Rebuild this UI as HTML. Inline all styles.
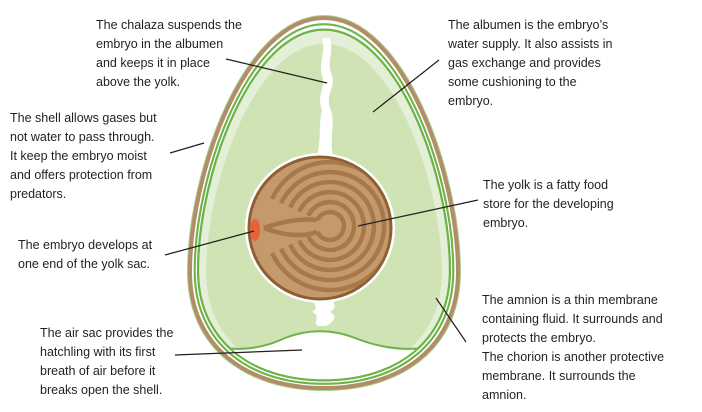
<!DOCTYPE html>
<html><head><meta charset="utf-8"><style>
html,body{margin:0;padding:0;background:#fff;}
svg{display:block;}
text{font-family:"Liberation Sans",sans-serif;font-size:12.5px;fill:#231f20;}
</style></head><body>
<svg width="702" height="412" viewBox="0 0 702 412" xmlns="http://www.w3.org/2000/svg">
<defs>
<path id="egg" d="M324,18 C402,18 458,172 458,272 C458,346 402,388 324,388 C246,388 190,346 190,272 C190,172 246,18 324,18 Z"/>
<clipPath id="yc"><circle cx="320" cy="228" r="70"/></clipPath>
<clipPath id="ic"><use href="#egg" transform="translate(324,240) scale(0.94,0.948) translate(-324,-240)"/></clipPath>
</defs>
<!-- shell -->
<use href="#egg" fill="#fff" stroke="#a8cf8e" stroke-width="6"/>
<use href="#egg" fill="#fff" stroke="#b38d68" stroke-width="4"/>
<!-- membranes -->
<g transform="translate(324,240) scale(0.965,0.972) translate(-324,-240)">
<use href="#egg" fill="none" stroke="#6db347" stroke-width="2.2"/>
</g>
<g transform="translate(324,240) scale(0.94,0.948) translate(-324,-240)">
<use href="#egg" fill="#e4efd8" stroke="#6db347" stroke-width="2.2"/>
</g>
<g transform="translate(324,240) scale(0.88,0.9) translate(-324,-236)">
<use href="#egg" fill="#cfe3b5"/>
</g>
<!-- air sac -->
<g clip-path="url(#ic)">
<path d="M190,340 C230,354 260,350 285,338 C305,330 330,328 355,338 C385,350 420,354 458,340 L458,400 L190,400 Z" fill="#fff"/>
<path d="M190,340 C230,354 260,350 285,338 C305,330 330,328 355,338 C385,350 420,354 458,340" fill="none" stroke="#6db347" stroke-width="2"/>
</g>
<g transform="translate(324,240) scale(0.94,0.948) translate(-324,-240)">
<use href="#egg" fill="none" stroke="#6db347" stroke-width="2.2"/>
</g>
<!-- chalaza top -->
<path d="M322,38 L330,38 C334,55 326,62 332,75 C336,88 324,96 331,110 C336,125 328,140 334,160 L316,160 C322,140 318,125 322,110 C316,96 326,88 322,75 C318,62 326,55 322,38 Z" fill="#fff"/>
<!-- chalaza bottom -->
<path d="M316,296 L332,296 C330,302 340,306 330,312 C338,316 334,322 326,326 L318,326 C312,322 322,316 312,312 C322,306 308,302 316,296 Z" fill="#fff"/>
<!-- yolk -->
<circle cx="320" cy="228" r="75" fill="#fff"/>
<circle cx="320" cy="228" r="71" fill="#c49a6c" stroke="#8e5f33" stroke-width="3"/>
<g clip-path="url(#yc)" fill="none" stroke="#a7784a" stroke-width="4.5">
<path d="M317.3,220.1 A14,14 0 1 1 317.3,231.9"/>
<path d="M308.3,215.8 A24,24 0 1 1 308.3,236.2"/>
<path d="M299.2,211.6 A34,34 0 1 1 299.2,240.4"/>
<path d="M290.1,207.4 A44,44 0 1 1 290.1,244.6"/>
<path d="M281.1,203.2 A54,54 0 1 1 281.1,248.8"/>
<path d="M272,198.9 A64,64 0 1 1 272,253.1"/>
<path d="M264,228 C280,222 300,218 317,220 M264,228 C280,234 300,238 317,232"/>
</g>
<ellipse cx="255" cy="230" rx="5" ry="11" fill="#e8613a"/>
<!-- leader lines -->
<g stroke="#231f20" stroke-width="1.2">
<line x1="226" y1="59" x2="327" y2="83"/>
<line x1="439" y1="60" x2="373" y2="112"/>
<line x1="170" y1="153" x2="204" y2="143"/>
<line x1="478" y1="200" x2="358" y2="226"/>
<line x1="165" y1="255" x2="254" y2="231"/>
<line x1="175" y1="355" x2="302" y2="350"/>
<line x1="466" y1="342" x2="436" y2="298"/>
</g>
<!-- labels -->
<text x="96" y="29">The chalaza suspends the</text>
<text x="96" y="48">embryo in the albumen</text>
<text x="96" y="67">and keeps it in place</text>
<text x="96" y="86">above the yolk.</text>
<text x="448" y="29">The albumen is the embryo’s</text>
<text x="448" y="48">water supply. It also assists in</text>
<text x="448" y="67">gas exchange and provides</text>
<text x="448" y="86">some cushioning to the</text>
<text x="448" y="105">embryo.</text>
<text x="10" y="122">The shell allows gases but</text>
<text x="10" y="141">not water to pass through.</text>
<text x="10" y="160">It keep the embryo moist</text>
<text x="10" y="179">and offers protection from</text>
<text x="10" y="198">predators.</text>
<text x="483" y="189">The yolk is a fatty food</text>
<text x="483" y="208">store for the developing</text>
<text x="483" y="227">embryo.</text>
<text x="18" y="249">The embryo develops at</text>
<text x="18" y="268">one end of the yolk sac.</text>
<text x="40" y="337">The air sac provides the</text>
<text x="40" y="356">hatchling with its first</text>
<text x="40" y="375">breath of air before it</text>
<text x="40" y="394">breaks open the shell.</text>
<text x="482" y="304">The amnion is a thin membrane</text>
<text x="482" y="323">containing fluid. It surrounds and</text>
<text x="482" y="342">protects the embryo.</text>
<text x="482" y="361">The chorion is another protective</text>
<text x="482" y="380">membrane. It surrounds the</text>
<text x="482" y="399">amnion.</text>
</svg>
</body></html>
